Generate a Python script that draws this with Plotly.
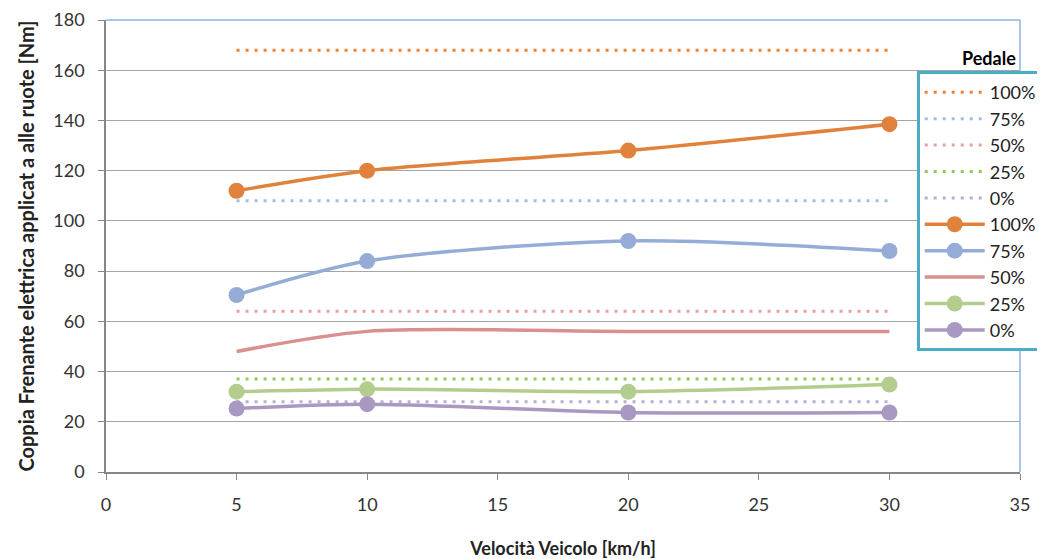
import plotly.graph_objects as go

velocita = [5, 10, 20, 30]
ref_x = [5, 30]
labels = ["100%", "75%", "50%", "25%", "0%"]

# Dotted reference levels per pedal position
ref_levels = [168, 108, 64, 37, 28]
# Measured curves
coppia_100 = [112, 120, 128, 138.5]
coppia_75 = [70.5, 84, 92, 88]
coppia_50 = [48, 56, 56, 56]
coppia_25 = [32, 33, 32, 34.8]
coppia_0 = [25.3, 27, 23.7, 23.7]

dot_colors = ["#EE8133", "#9DBFE3", "#E7A1A0", "#8FCC55", "#B9ADD6"]
line_colors = ["#E0823C", "#95ADD6", "#D9908F", "#B2CD8D", "#A898C2"]

fig = go.Figure()

for lab, lev, col in zip(labels, ref_levels, dot_colors):
    fig.add_trace(go.Scatter(
        x=ref_x, y=[lev] * len(ref_x), name=lab, mode="lines",
        line=dict(color=col, width=3, dash="3px,6px"),
    ))

series = [coppia_100, coppia_75, coppia_50, coppia_25, coppia_0]
for lab, vals, col in zip(labels, series, line_colors):
    has_marker = lab != "50%"
    fig.add_trace(go.Scatter(
        x=velocita, y=vals, name=lab,
        mode="lines+markers" if has_marker else "lines",
        line=dict(color=col, width=3.5, shape="spline", smoothing=0.8),
        marker=dict(size=16, color=col),
    ))

fig.add_shape(type="line", xref="paper", yref="paper", x0=0, x1=1, y0=1, y1=1,
              line=dict(color="#8DB3E2", width=1.5))
fig.add_shape(type="line", xref="paper", yref="paper", x0=1, x1=1, y0=0, y1=1,
              line=dict(color="#8DB3E2", width=1.5))

fig.add_annotation(text="<b>Pedale</b>", xref="paper", yref="paper",
                   x=0.998, y=0.888, xanchor="right", yanchor="bottom",
                   showarrow=False, font=dict(size=18, color="#000000"))

fig.update_layout(
    width=1037, height=551,
    margin=dict(l=98, r=25, t=12, b=87, autoexpand=False),
    paper_bgcolor="white", plot_bgcolor="white",
    font=dict(family="Lato, Liberation Sans, sans-serif", size=18, color="#333333"),
    showlegend=True,
    legend=dict(
        x=0.887, y=0.887, xanchor="left", yanchor="top",
        bgcolor="white", bordercolor="#4BACC6", borderwidth=3,
        font=dict(size=18, color="#222222"),
        tracegroupgap=0, itemwidth=60,
    ),
    xaxis=dict(
        range=[0, 35], tickvals=[0, 5, 10, 15, 20, 25, 30, 35],
        showgrid=False, zeroline=False, automargin=False,
        showline=True, linecolor="#868686", linewidth=1.5,
        ticks="outside", ticklen=6, tickcolor="#868686",
        ticklabelstandoff=10,
        title=dict(text="<b>Velocità Veicolo [km/h]</b>", font=dict(size=18, color="#222222"), standoff=30),
    ),
    yaxis=dict(
        range=[0, 180], tickvals=list(range(0, 181, 20)),
        showgrid=True, gridcolor="#A6A6A6", gridwidth=1.2, zeroline=False, automargin=False,
        showline=True, linecolor="#868686", linewidth=1.5,
        ticks="outside", ticklen=6, tickcolor="#868686",
        ticklabelstandoff=10,
        title=dict(text="<b>Coppia Frenante elettrica applicat a alle ruote [Nm]</b>",
                   font=dict(size=20, color="#222222"), standoff=13),
    ),
)

fig.write_html("out.html")
